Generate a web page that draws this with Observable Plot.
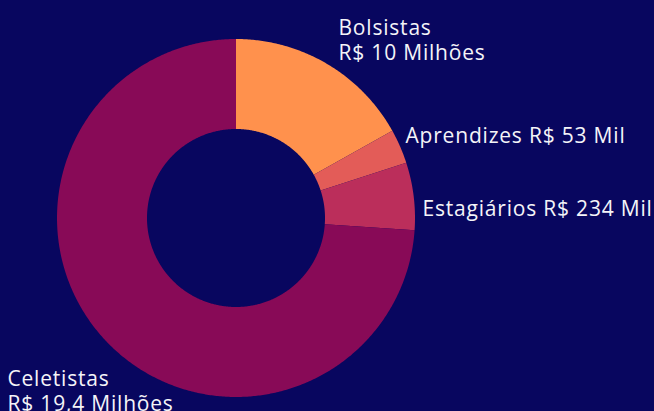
<!DOCTYPE html>
<html>
<head>
<meta charset="utf-8">
<script src="https://cdn.jsdelivr.net/npm/d3@7"></script>
<script src="https://cdn.jsdelivr.net/npm/@observablehq/plot@0.6"></script>
<style>
  html, body { margin: 0; padding: 0; background: #08065f; overflow: hidden; }
  #chart svg { display: block; }
</style>
</head>
<body>
<div id="chart"></div>
<script>
// ---- data ----
const categorias = ["Bolsistas", "Aprendizes", "Estagiários", "Celetistas"];
const valores = ["R$ 10 Milhões", "R$ 53 Mil", "R$ 234 Mil", "R$ 19,4 Milhões"];
// share of the ring each slice covers, in %
const fatias = [16.9, 3.1, 6.1, 73.9];
const cores = ["#ff914d", "#e35c58", "#bb2e5b", "#880a57"];

// ---- layout ----
const W = 654, H = 411;
const cx = 236, cy = 218;      // ring centre (px)
const R = 179, r0 = 89;        // outer / inner radius (px)
const labelLayout = {
  "Bolsistas":   {px: 338, py: 17, sep: "\n"},
  "Aprendizes":  {px: 405, py: 125, sep: " "},
  "Estagiários": {px: 422, py: 198, sep: " "},
  "Celetistas":  {px: 7,   py: 368, sep: "\n"}
};

// ---- build ring segments from the shares ----
const total = d3.sum(fatias);
const rows = [];
let acc = 0;
categorias.forEach((c, i) => {
  const a0 = acc / total * 2 * Math.PI;
  acc += fatias[i];
  const a1 = acc / total * 2 * Math.PI;
  const n = Math.max(2, Math.ceil((a1 - a0) * 180 / Math.PI * 2));
  for (let k = 0; k <= n; k++) {
    const a = a0 + (a1 - a0) * k / n;
    rows.push({
      cat: c,
      xo: R * Math.sin(a), yo: -R * Math.cos(a),
      xi: r0 * Math.sin(a), yi: -r0 * Math.cos(a)
    });
  }
});

const labels = categorias.map((c, i) => ({
  cat: c,
  text: c + labelLayout[c].sep + valores[i],
  x: labelLayout[c].px - cx,
  y: labelLayout[c].py - cy
}));

const chart = Plot.plot({
  width: W,
  height: H,
  margin: 0,
  style: {background: "#08065f", fontFamily: "'Open Sans', sans-serif", letterSpacing: "0.8px", overflow: "visible"},
  x: {domain: [-cx, W - cx], range: [0, W], axis: null},
  y: {domain: [-cy, H - cy], range: [0, H], axis: null},
  color: {domain: categorias, range: cores},
  marks: [
    Plot.area(rows, {
      x1: "xo", y1: "yo", x2: "xi", y2: "yi",
      z: "cat", fill: "cat", curve: "linear"
    }),
    Plot.text(labels, {
      x: "x", y: "y", text: "text",
      textAnchor: "start", lineAnchor: "top", lineHeight: 1.19,
      fill: "#f4f4f8", fontSize: 21
    })
  ]
});
document.getElementById("chart").appendChild(chart);
</script>
</body>
</html>
